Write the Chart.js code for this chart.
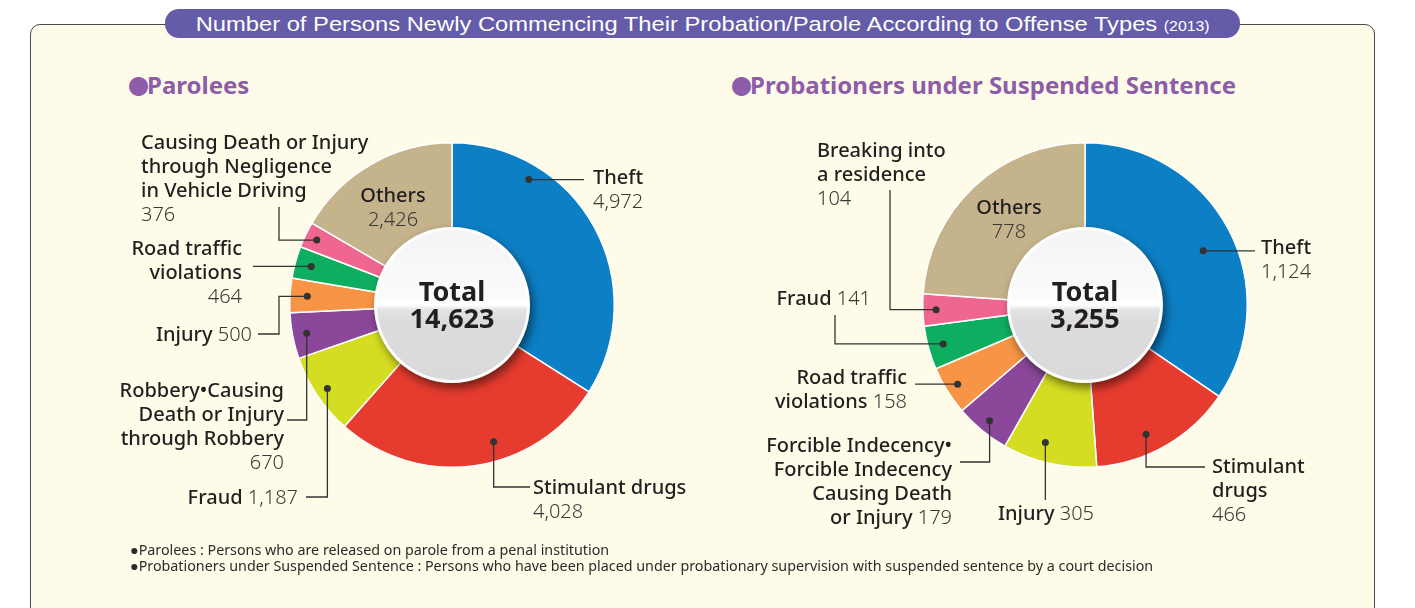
<!DOCTYPE html>
<html>
<head>
<meta charset="utf-8">
<script src="https://cdn.jsdelivr.net/npm/chart.js@4"></script>
<style>
  body { margin: 0; width: 1415px; height: 608px; background: #fff; position: relative; overflow: hidden; font-family: "Noto Sans", sans-serif; }
  .panel { position: absolute; left: 30px; top: 24px; width: 1343px; height: 640px; background: #fffbe9; border: 1.5px solid #4a4a4a; border-radius: 10px; }
  .title { position: absolute; left: 165px; top: 9px; width: 1075px; height: 29px; background: #645ca8; border-radius: 14px; color: #fff; font-family: "Liberation Sans", Arial, sans-serif; font-size: 21px; line-height: 29px; text-align: center; }
  .title span { display: inline-block; transform: scaleX(1.13); }
  .title small { font-size: 14px; }
  .sub { position: absolute; top: 68px; color: #8d5caa; font-weight: 700; font-size: 24px; }
  .sub b { font-family: "Noto Sans CJK JP", sans-serif; font-size: 21px; line-height: 24px; margin-right: -2px; }
  .box { position: absolute; top: 0; }
  .notes { position: absolute; left: 130px; top: 542px; font-size: 14.3px; line-height: 16px; color: #2b2b2b; }
</style>
</head>
<body>
<div class="panel"></div>
<div class="title"><span>Number of Persons Newly Commencing Their Probation/Parole According to Offense Types <small>(2013)</small></span></div>
<div class="sub" style="left:128px"><b>●</b>Parolees</div>
<div class="sub" style="left:731px"><b>●</b>Probationers under Suspended Sentence</div>
<div class="box" style="left:0"><canvas id="paroleChart" width="707" height="608"></canvas></div>
<div class="box" style="left:707px"><canvas id="probationChart" width="708" height="608"></canvas></div>
<div class="notes">
  ●Parolees : Persons who are released on parole from a penal institution<br>
  ●Probationers under Suspended Sentence : Persons who have been placed under probationary supervision with suspended sentence by a court decision
</div>
<script>
// data
const paroleCategories = ['Theft', 'Stimulant drugs', 'Fraud', 'Robbery•Causing Death or Injury through Robbery', 'Injury', 'Road traffic violations', 'Causing Death or Injury through Negligence in Vehicle Driving', 'Others'];
const paroleValues = [4972, 4028, 1187, 670, 500, 464, 376, 2426];

const probationCategories = ['Theft', 'Stimulant drugs', 'Injury', 'Forcible Indecency•Forcible Indecency Causing Death or Injury', 'Road traffic violations', 'Fraud', 'Breaking into a residence', 'Others'];
const probationValues = [1124, 466, 305, 179, 158, 141, 104, 778];

// colours by slice position
const paroleColors = ['#0c7fc5', '#e63c2f', '#d5dd22', '#8b4799', '#f79445', '#0fad5f', '#ef6690', '#c4b38b'];
const probationColors = ['#0c7fc5', '#e63c2f', '#d5dd22', '#8b4799', '#f79445', '#0fad5f', '#ef6690', '#c4b38b'];

// label placement, offsets from the donut centre
const paroleLabels = [
  { lines: ['Theft', '{v}'], tx: 141, ty: -127, align: 'left', frac: 0.257, r: 147, path: [['h', 132]] },
  { lines: ['Stimulant drugs', '{v}'], tx: 81, ty: 183, align: 'left', frac: 0.41, r: 143, path: [['v', 182], ['h', 78]] },
  { lines: ['Fraud {v}'], tx: -154, ty: 193, align: 'right', frac: 0.5, r: 150, path: [['v', 192], ['h', -146]] },
  { lines: ['Robbery•Causing', 'Death or Injury', 'through Robbery', '{v}'], tx: -168, ty: 86, align: 'right', frac: 0.5, r: 148, path: [['v', 115], ['h', -165]] },
  { lines: ['Injury {v}'], tx: -200, ty: 30, align: 'right', frac: 0.5, r: 145, path: [['h', -173], ['v', 29], ['h', -194]] },
  { lines: ['Road traffic', 'violations', '{v}'], tx: -210, ty: -56, align: 'right', frac: 0.5, r: 146, path: [['h', -199]] },
  { lines: ['Causing Death or Injury', 'through Negligence', 'in Vehicle Driving', '{v}'], tx: -311, ty: -162, align: 'left', frac: 0.5, r: 150, path: [['h', -173], ['v', -98]] },
  { lines: ['Others', '{v}'], tx: -59, ty: -109, align: 'center' }
];
const probationLabels = [
  { lines: ['Theft', '{v}'], tx: 176, ty: -57, align: 'left', frac: 0.526, r: 130, path: [['h', 170]] },
  { lines: ['Stimulant', 'drugs', '{v}'], tx: 127, ty: 162, align: 'left', frac: 0.59, r: 143, path: [['v', 162], ['h', 120]] },
  { lines: ['Injury {v}'], tx: -39, ty: 209, align: 'center', frac: 0.6, r: 143, path: [['v', 195]] },
  { lines: ['Forcible Indecency•', 'Forcible Indecency', 'Causing Death', 'or Injury {v}'], tx: -133, ty: 141, align: 'right', frac: 0.5, r: 150, path: [['v', 157], ['h', -125]] },
  { lines: ['Road traffic', 'violations {v}'], tx: -178, ty: 73, align: 'right', frac: 0.5, r: 150, path: [['h', -170]] },
  { lines: ['Fraud {v}'], tx: -214, ty: -6, align: 'right', frac: 0.5, r: 147, path: [['h', -250], ['v', 10]] },
  { lines: ['Breaking into', 'a residence', '{v}'], tx: -268, ty: -154, align: 'left', frac: 0.5, r: 149, path: [['h', -195], ['v', -115]] },
  { lines: ['Others', '{v}'], tx: -76, ty: -97, align: 'center' }
];

const FONT = '"Noto Sans", sans-serif';
const NAME_FONT = '500 20px ' + FONT;
const VALUE_FONT = '300 20px ' + FONT;
const LINE_H = 24;

function fmt(n) { return n.toLocaleString('en-US'); }

function drawText(ctx, lbl, value, cx, cy) {
  ctx.textBaseline = 'middle';
  lbl.lines.forEach((line, i) => {
    const parts = line.split('{v}');
    const segs = [];
    if (parts[0]) segs.push({ t: parts[0], f: NAME_FONT, c: '#231f20' });
    if (parts.length > 1) segs.push({ t: fmt(value), f: VALUE_FONT, c: '#3b3838' });
    let w = 0;
    segs.forEach(s => { ctx.font = s.f; s.w = ctx.measureText(s.t).width; w += s.w; });
    let x = cx + lbl.tx;
    if (lbl.align === 'right') x -= w;
    if (lbl.align === 'center') x -= w / 2;
    const y = cy + lbl.ty + i * LINE_H;
    segs.forEach(s => {
      ctx.font = s.f;
      ctx.fillStyle = s.c;
      ctx.textAlign = 'left';
      ctx.fillText(s.t, x, y);
      x += s.w;
    });
  });
}

// centre disc with drop shadow + leader labels
const donutDecor = {
  id: 'donutDecor',
  afterDatasetsDraw(chart, args, opts) {
    const ctx = chart.ctx;
    const meta = chart.getDatasetMeta(0);
    const values = chart.data.datasets[0].data;
    const cx = meta.data[0].x, cy = meta.data[0].y;

    // leaders
    opts.labels.forEach((lbl, i) => {
      if (!lbl.path) return;
      const arc = meta.data[i];
      const a = arc.startAngle + (arc.endAngle - arc.startAngle) * lbl.frac;
      const px = cx + Math.cos(a) * lbl.r, py = cy + Math.sin(a) * lbl.r;
      ctx.save();
      ctx.strokeStyle = '#333';
      ctx.lineWidth = 1.3;
      ctx.beginPath();
      ctx.moveTo(px, py);
      let x = px, y = py;
      lbl.path.forEach(([dir, v]) => {
        if (dir === 'h') x = cx + v; else y = cy + v;
        ctx.lineTo(x, y);
      });
      ctx.stroke();
      ctx.fillStyle = '#333';
      ctx.beginPath();
      ctx.arc(px, py, 3.5, 0, Math.PI * 2);
      ctx.fill();
      ctx.restore();
    });

    // centre disc
    const R = 78;
    ctx.save();
    ctx.shadowColor = 'rgba(0,0,0,0.5)';
    ctx.shadowBlur = 10;
    ctx.shadowOffsetX = 3;
    ctx.shadowOffsetY = 5;
    ctx.fillStyle = '#fff';
    ctx.beginPath();
    ctx.arc(cx, cy, R, 0, Math.PI * 2);
    ctx.fill();
    ctx.restore();
    const g = ctx.createLinearGradient(0, cy - R, 0, cy + R);
    g.addColorStop(0, '#f4f4f4');
    g.addColorStop(0.45, '#fbfbfb');
    g.addColorStop(0.5, '#ffffff');
    g.addColorStop(0.53, '#e4e4e6');
    g.addColorStop(0.6, '#dcdcde');
    g.addColorStop(1, '#dadadc');
    ctx.fillStyle = g;
    ctx.beginPath();
    ctx.arc(cx, cy, R - 3, 0, Math.PI * 2);
    ctx.fill();

    const total = values.reduce((s, v) => s + v, 0);
    ctx.fillStyle = '#231f20';
    ctx.textAlign = 'center';
    ctx.textBaseline = 'middle';
    ctx.font = '700 27px ' + FONT;
    ctx.fillText('Total', cx, cy - 12);
    ctx.fillText(fmt(total), cx, cy + 15);

    opts.labels.forEach((lbl, i) => drawText(ctx, lbl, values[i], cx, cy));
  }
};

function makeDonut(id, categories, values, colors, labels, padding) {
  return new Chart(document.getElementById(id), {
    type: 'doughnut',
    data: {
      labels: categories,
      datasets: [{
        data: values,
        backgroundColor: colors,
        borderColor: '#fff',
        borderWidth: 1.5
      }]
    },
    options: {
      responsive: false,
      animation: false,
      cutout: '45%',
      layout: { padding: padding },
      plugins: {
        legend: { display: false },
        tooltip: { enabled: false },
        donutDecor: { labels: labels }
      }
    },
    plugins: [donutDecor]
  });
}

makeDonut('paroleChart', paroleCategories, paroleValues, paroleColors, paroleLabels,
  { left: 289, right: 92, top: 142, bottom: 140 });
makeDonut('probationChart', probationCategories, probationValues, probationColors, probationLabels,
  { left: 215, right: 167, top: 142, bottom: 140 });
</script>
</body>
</html>
